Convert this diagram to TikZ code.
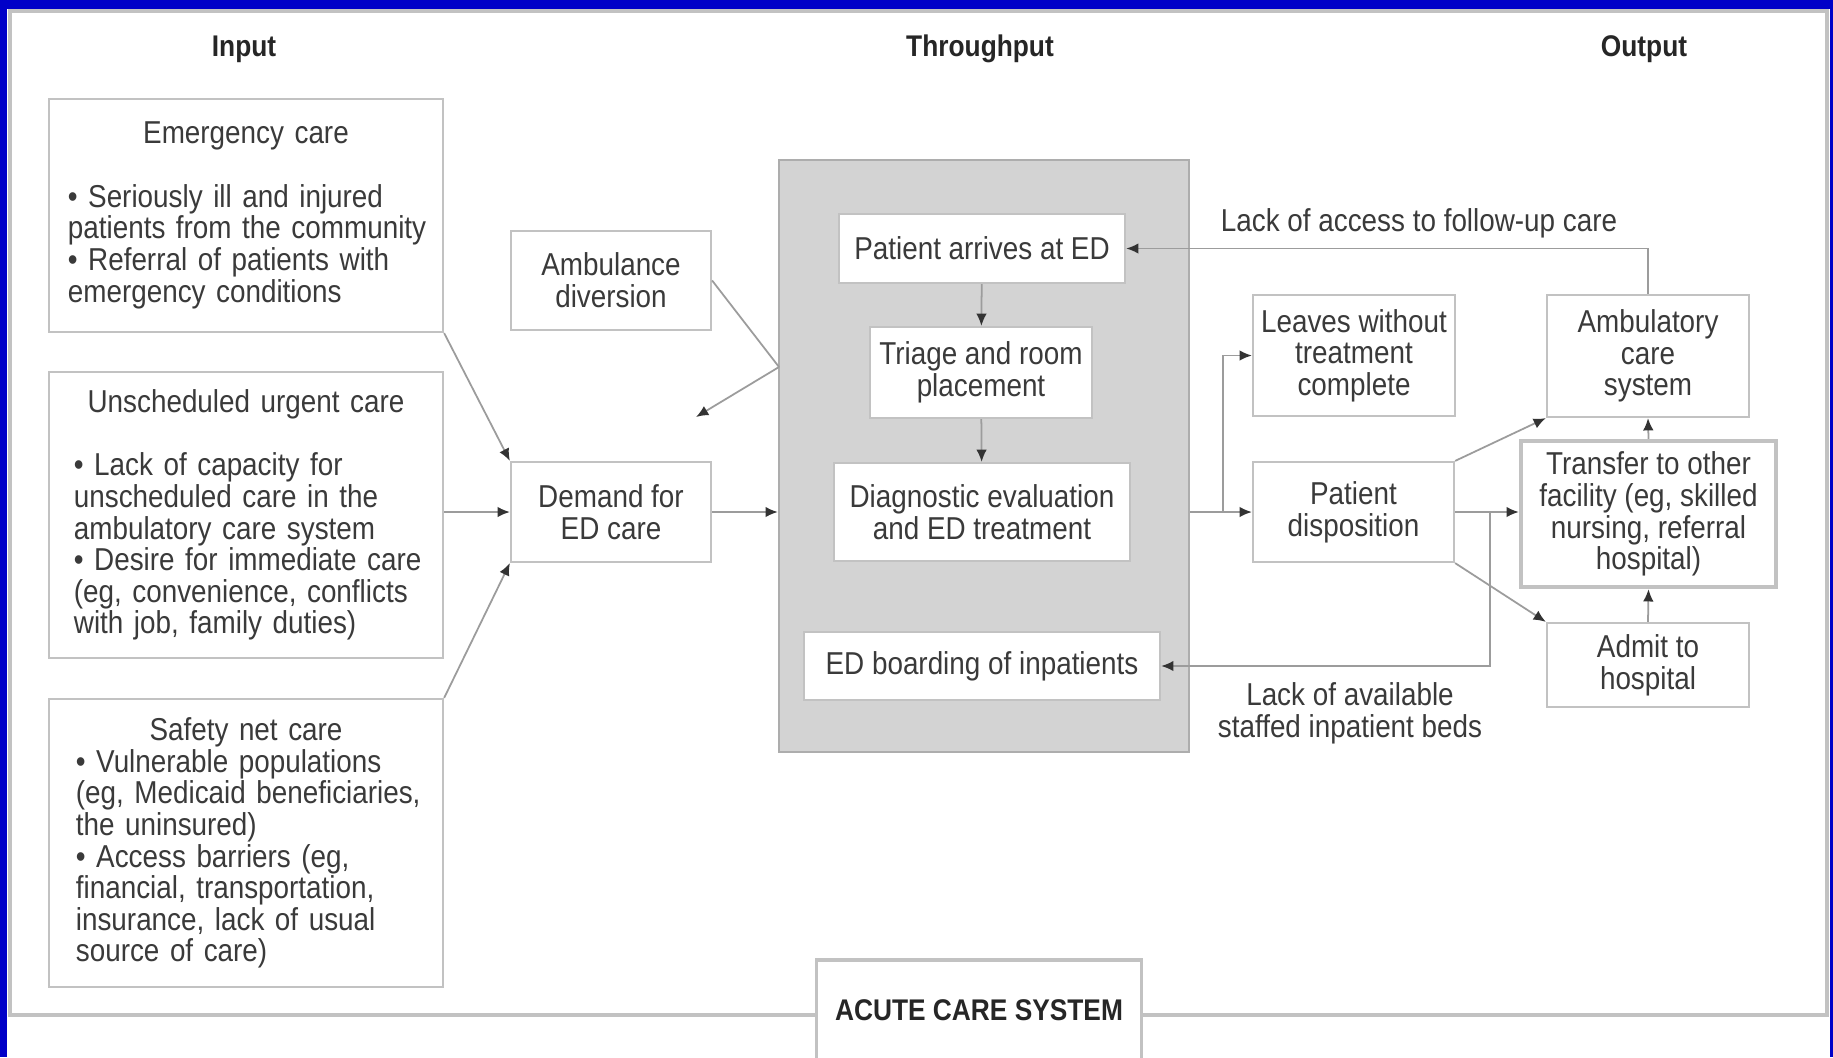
\documentclass[tikz,border=0pt]{standalone}
\usepackage{fontspec}
\setmainfont{Liberation Sans}[FakeStretch=0.88]
\usetikzlibrary{arrows.meta, positioning}
\definecolor{rimgray}{HTML}{C2C2C2}
\definecolor{edgray}{HTML}{D3D3D3}
\definecolor{ink}{HTML}{3A3A3A}
\definecolor{wire}{HTML}{9C9C9C}
\definecolor{bluebg}{HTML}{0000C8}
\hyphenpenalty=10000
\exhyphenpenalty=10000

\begin{document}
\begin{tikzpicture}[x=0.01cm, y=-0.01cm,
        every node/.style={font=\fontsize{9}{9}\selectfont, text=ink},
        box/.style={draw=rimgray, line width=0.6pt, fill=white, align=center, inner sep=0pt},
        inbox/.style={box, align=left, text width=3.72cm, inner xsep=0.11cm, minimum width=3.94cm},
        hdr/.style={font=\bfseries\fontsize{8.5}{10}\selectfont, text=black!85},
        lbl/.style={align=center},
        arr/.style={draw=wire, line width=0.5pt, -{Latex[length=3.5pt, width=3pt, color=black!80]}},
        ln/.style={draw=wire, line width=0.5pt}
    ]
    \useasboundingbox (0,0) rectangle (1833,1057);
    % Background and frame
    \fill[bluebg] (0,0) rectangle (1833,1057);
    \fill[white] (7,9) rectangle (1830,1057);
    \draw[rimgray, line width=0.9pt] (10,11) rectangle (1827,1015);

    % Column headers
    \node[hdr] (hin) at (244,49) {Input};
    \node[hdr] (hthru) at (980,49) {Throughput};
    \node[hdr] (hout) at (1644,49) {Output};

    % Input
    \node[inbox, minimum height=2.33cm] (emerg) at (246,215.5) {{\centering Emergency care\par}\leftskip=0.08cm\vskip 9pt
        • Seriously ill and injured\\ patients from the community\\ • Referral of patients with\\ emergency conditions\par};
    \node[inbox, minimum height=2.86cm] (unsched) at (246,515) {{\centering Unscheduled urgent care\par}\leftskip=0.14cm\vskip 9pt
        • Lack of capacity for\\ unscheduled care in the\\ ambulatory care system\\ • Desire for immediate care\\ (eg, convenience, conflicts\\ with job, family duties)\par};
    \node[inbox, minimum height=2.88cm] (safety) at (246,843) {{\centering Safety net care\par}\leftskip=0.16cm
        • Vulnerable populations\\ (eg, Medicaid beneficiaries,\\ the uninsured)\\ • Access barriers (eg,\\ financial, transportation,\\ insurance, lack of usual\\ source of care)\par};

    \node[box, minimum width=2.00cm, minimum height=0.99cm] (ambdiv) at (611,280.5) {Ambulance\\diversion};
    \node[box, minimum width=2.00cm, minimum height=1.00cm] (demand) at (611,512) {Demand for\\ED care};

    % Throughput
    \node[draw=black!32, fill=edgray, line width=0.6pt, inner sep=0pt,
        minimum width=4.10cm, minimum height=5.92cm] (edbox) at (984,456) {};
    \node[box, minimum width=2.86cm, minimum height=0.69cm] (arrive) at (982,248.5) {Patient arrives at ED};
    \node[box, minimum width=2.22cm, minimum height=0.91cm] (triage) at (981,372.5) {Triage and room\\placement};
    \node[box, minimum width=2.96cm, minimum height=0.98cm] (diag) at (982,512) {Diagnostic evaluation\\and ED treatment};
    \node[box, minimum width=3.56cm, minimum height=0.68cm] (board) at (982,666) {ED boarding of inpatients};

    % Output
    \node[box, minimum width=2.02cm, minimum height=1.21cm] (leaves) at (1354,355.5) {Leaves without\\treatment\\complete};
    \node[box, minimum width=2.01cm, minimum height=1.00cm] (dispo) at (1353.5,512) {Patient\\disposition};
    \node[box, minimum width=2.02cm, minimum height=1.22cm] (ambcare) at (1648,356) {Ambulatory\\care\\system};
    \node[box, line width=1.2pt, minimum width=2.55cm, minimum height=1.46cm] (transfer) at (1648.5,514) {Transfer to other\\facility (eg, skilled\\nursing, referral\\hospital)};
    \node[box, minimum width=2.02cm, minimum height=0.84cm] (admit) at (1648,665) {Admit to\\hospital};

    % Labels on the loops
    \node[lbl] (noaccess) at (1419,223) {Lack of access to follow-up care};
    \node[lbl] (nobeds) at (1350,713) {Lack of available\\staffed inpatient beds};

    % Bottom tab
    \node[box, hdr, line width=0.9pt, minimum width=3.24cm, minimum height=1.00cm] (acute) at (979,1010) {ACUTE CARE SYSTEM};

    % Points where the lines turn or split
    \coordinate (bounce) at (779,367);
    \coordinate (turnback) at (696,417);
    \coordinate (split) at (1223,512);
    \coordinate (split2) at (1490,512);

    % Arrows
    \draw[arr] (emerg.south east) -- (demand.north west);
    \draw[arr] (unsched.east |- demand.west) -- (demand.west);
    \draw[arr] (safety.north east) -- (demand.south west);
    \draw[ln] (ambdiv.east) -- (bounce);
    \draw[arr] (bounce) -- (turnback);
    \draw[arr] (demand.east) -- (edbox.west |- demand.east);
    \draw[arr] (arrive) -- (triage);
    \draw[arr] (triage) -- (diag);
    \draw[arr] (edbox.east |- dispo.west) -- (dispo.west);
    \draw[arr] (split) |- (leaves.west);
    \draw[arr] (ambcare.north) |- (arrive.east);
    \draw[arr] (dispo.east) -- (transfer.west |- dispo.east);
    \draw[arr] (split2) |- (board.east);
    \draw[arr] (dispo.north east) -- (ambcare.south west);
    \draw[arr] (dispo.south east) -- (admit.north west);
    \draw[arr] (transfer.north) -- (ambcare.south);
    \draw[arr, {Latex[length=3.5pt, width=3pt, color=black!80]}-] (transfer.south) -- (admit.north);
\end{tikzpicture}
\end{document}
